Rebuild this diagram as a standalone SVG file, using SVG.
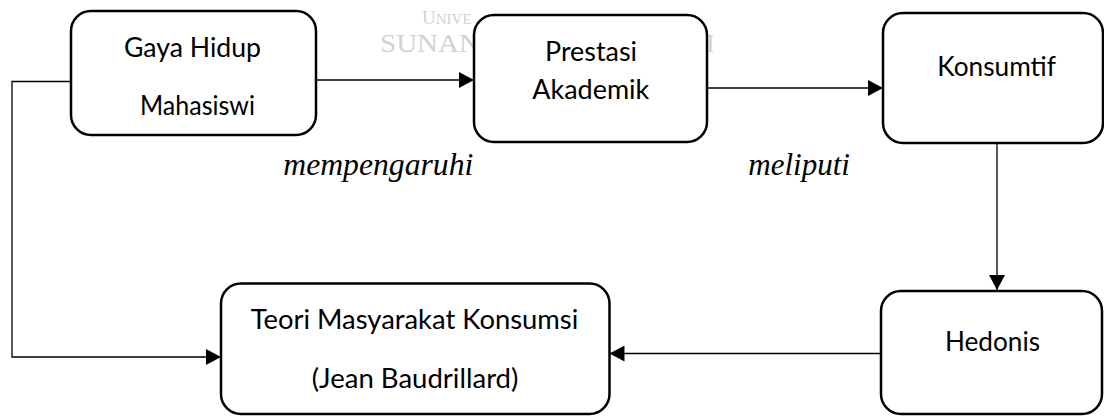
<svg xmlns="http://www.w3.org/2000/svg" width="1104" height="416" viewBox="0 0 1104 416">
<defs>
<style>
.box{fill:#fff;stroke:#000;stroke-width:2.5}
.lbl{font-family:Lato,"Open Sans","Liberation Sans",sans-serif;font-size:27px;fill:#000}
.it{font-family:"Liberation Serif","Times New Roman",serif;font-style:italic;font-size:31.5px;fill:#000}
.wm{font-family:"Liberation Serif",serif;fill:#d2d2d2}
.conn{fill:none;stroke:#000;stroke-width:1.3}
</style>
<marker id="arr" markerUnits="userSpaceOnUse" markerWidth="15" markerHeight="16" refX="15" refY="8" orient="auto" viewBox="0 0 15 16">
<path d="M0,0 L15,8 L0,16 z" fill="#000"/>
</marker>
</defs>
<rect width="1104" height="416" fill="#fff"/>
<g id="watermark">
<text class="wm" x="422" y="24" font-size="19">U<tspan font-size="15">NIVE</tspan></text>
<text class="wm" x="380" y="51.5" font-size="26" textLength="100" lengthAdjust="spacingAndGlyphs">SUNAN</text>
<text class="wm" x="706" y="51.5" font-size="26">I</text>
</g>
<g id="connectors">
<line class="conn" x1="316" y1="80" x2="474" y2="80" marker-end="url(#arr)"/>
<line class="conn" x1="707" y1="88" x2="883" y2="88" marker-end="url(#arr)"/>
<line class="conn" x1="997" y1="143" x2="997" y2="290" marker-end="url(#arr)"/>
<line class="conn" x1="881" y1="353.5" x2="609.5" y2="353.5" marker-end="url(#arr)"/>
<polyline class="conn" points="71,81.5 12,81.5 12,357 221,357" marker-end="url(#arr)"/>
</g>
<g id="node-gaya">
<rect class="box" x="71" y="11" width="245" height="124" rx="20"/>
<text class="lbl" x="124" y="56.5" textLength="137" lengthAdjust="spacingAndGlyphs">Gaya Hidup</text>
<text class="lbl" x="140" y="115" textLength="115" lengthAdjust="spacingAndGlyphs">Mahasiswi</text>
</g>
<g id="node-prestasi">
<rect class="box" x="474" y="15" width="233" height="127" rx="20"/>
<text class="lbl" x="545" y="60.5" textLength="92" lengthAdjust="spacingAndGlyphs">Prestasi</text>
<text class="lbl" x="532.3" y="99.3" textLength="117" lengthAdjust="spacingAndGlyphs">Akademik</text>
</g>
<g id="node-konsumtif">
<rect class="box" x="883" y="13" width="220" height="130" rx="20"/>
<text class="lbl" x="937.3" y="76" textLength="118.7" lengthAdjust="spacingAndGlyphs">Konsumtif</text>
</g>
<g id="node-hedonis">
<rect class="box" x="881" y="291" width="221" height="123" rx="20"/>
<text class="lbl" x="945" y="351" textLength="95" lengthAdjust="spacingAndGlyphs">Hedonis</text>
</g>
<g id="node-teori">
<rect class="box" x="221" y="283.5" width="388.5" height="130.5" rx="20"/>
<text class="lbl" x="250.7" y="329.3" textLength="327.6" lengthAdjust="spacingAndGlyphs">Teori Masyarakat Konsumsi</text>
<text class="lbl" x="311.7" y="388.3" textLength="206.7" lengthAdjust="spacingAndGlyphs">(Jean Baudrillard)</text>
</g>
<g id="labels">
<text class="it" x="283.3" y="175" textLength="190" lengthAdjust="spacingAndGlyphs">mempengaruhi</text>
<text class="it" x="748.3" y="175" textLength="101.7" lengthAdjust="spacingAndGlyphs">meliputi</text>
</g>
</svg>
